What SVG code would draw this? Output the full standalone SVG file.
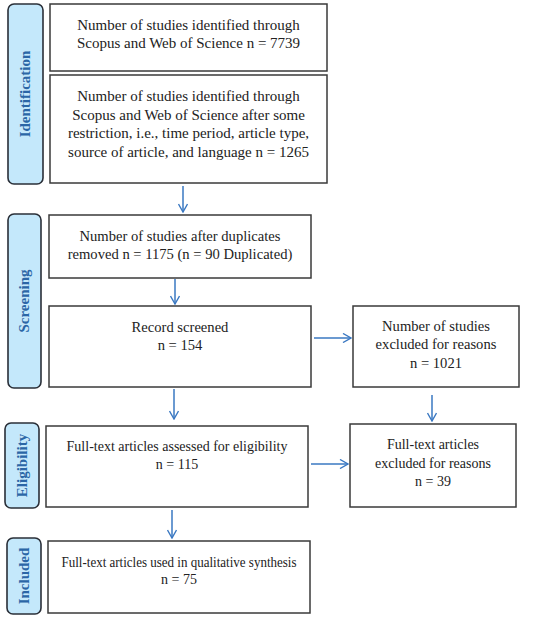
<svg xmlns="http://www.w3.org/2000/svg" width="550" height="620" viewBox="0 0 550 620">
<defs>
<marker id="arr" viewBox="0 0 10 10" refX="9" refY="5" markerWidth="10" markerHeight="10" markerUnits="userSpaceOnUse" orient="auto">
<path d="M1,0.5 L9,5 L1,9.5" fill="none" stroke="#3a78c2" stroke-width="1.4"/>
</marker>
<style>
.side{fill:#c4e8fb;stroke:#2a2f38;stroke-width:1.6}
.box{fill:#ffffff;stroke:#3a3a3a;stroke-width:1.5}
.st{font-family:"Liberation Serif",serif;font-size:15px;font-weight:bold;fill:#2b66a6;text-anchor:middle}
.t{font-family:"Liberation Serif",serif;font-size:15px;fill:#222;text-anchor:middle}
.m{font-size:14.6px}
.s{font-size:14px}
.c{stroke:#3a78c2;stroke-width:1.5;fill:none;marker-end:url(#arr)}
</style>
</defs>
<g id="phase-identification"><rect class="side" x="8" y="4" width="35" height="180" rx="6"/><text class="st" transform="translate(30,94) rotate(-90)">Identification</text></g>
<g id="phase-screening"><rect class="side" x="8" y="214" width="33" height="174" rx="6"/><text class="st" transform="translate(29,301) rotate(-90)">Screening</text></g>
<g id="phase-eligibility"><rect class="side" x="5" y="423" width="34" height="85" rx="6"/><text class="st" transform="translate(27,465.5) rotate(-90)">Eligibility</text></g>
<g id="phase-included"><rect class="side" x="7" y="538" width="34" height="76" rx="6"/><text class="st" transform="translate(29,576) rotate(-90)">Included</text></g>

<g id="n1"><rect class="box" x="50" y="4" width="277" height="67"/>
<text class="t" x="188.5" y="30">Number of studies identified through</text>
<text class="t" x="188.5" y="48">Scopus and Web of Science n = 7739</text></g>
<g id="n2"><rect class="box" x="50" y="75" width="277" height="108"/>
<text class="t" x="188.5" y="101">Number of studies identified through</text>
<text class="t" x="188.5" y="119.5">Scopus and Web of Science after some</text>
<text class="t" x="188.5" y="138">restriction, i.e., time period, article type,</text>
<text class="t" x="188.5" y="156.5">source of article, and language n = 1265</text></g>
<g id="n3"><rect class="box" x="49" y="215" width="262" height="63"/>
<text class="t m" x="180" y="241">Number of studies after duplicates</text>
<text class="t m" x="180" y="259">removed n = 1175 (n = 90 Duplicated)</text></g>
<g id="n4"><rect class="box" x="49" y="306" width="262" height="81"/>
<text class="t m" x="180" y="332">Record screened</text>
<text class="t m" x="180" y="350">n = 154</text></g>
<g id="n5"><rect class="box" x="353" y="306" width="166" height="81"/>
<text class="t m" x="436" y="331">Number of studies</text>
<text class="t m" x="436" y="349">excluded for reasons</text>
<text class="t m" x="436" y="368">n = 1021</text></g>
<g id="n6"><rect class="box" x="46" y="426" width="262" height="81"/>
<text class="t s" x="177" y="451">Full-text articles assessed for eligibility</text>
<text class="t s" x="177" y="469">n = 115</text></g>
<g id="n7"><rect class="box" x="350" y="424" width="166" height="83"/>
<text class="t s" x="433" y="449">Full-text articles</text>
<text class="t s" x="433" y="468">excluded for reasons</text>
<text class="t s" x="433" y="486">n = 39</text></g>
<g id="n8"><rect class="box" x="48" y="541" width="262" height="72"/>
<text class="t s" x="179" y="567" textLength="235" lengthAdjust="spacingAndGlyphs">Full-text articles used in qualitative synthesis</text>
<text class="t s" x="179" y="584">n = 75</text></g>

<g id="connectors">
<line class="c" x1="183" y1="186" x2="183" y2="212"/>
<line class="c" x1="175" y1="279" x2="175" y2="304"/>
<line class="c" x1="314" y1="338" x2="351" y2="338"/>
<line class="c" x1="174" y1="389" x2="174" y2="419"/>
<line class="c" x1="432" y1="395" x2="432" y2="421"/>
<line class="c" x1="311" y1="464" x2="348" y2="464"/>
<line class="c" x1="172" y1="510" x2="172" y2="538"/>
</g>
</svg>
